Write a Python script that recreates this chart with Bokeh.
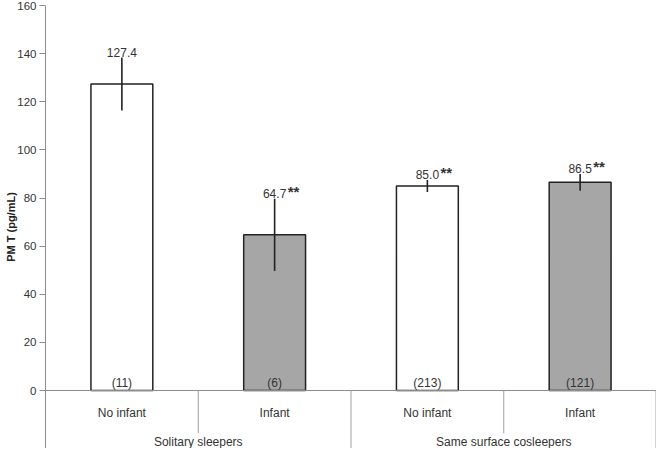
from bokeh.plotting import figure
from bokeh.models import ColumnDataSource, FixedTicker, Range1d
from bokeh.core.properties import value
from bokeh.embed import file_html
from bokeh.resources import INLINE

# ---- data ----
groups = ["Solitary sleepers", "Same surface cosleepers"]
subgroups = ["No infant", "Infant", "No infant", "Infant"]
means = [127.4, 64.7, 85.0, 86.5]
errors = [11.0, 15.0, 2.5, 3.5]
counts = [11, 6, 213, 121]
stars = ["", "**", "**", "**"]
fills = ["#ffffff", "#a6a6a6", "#ffffff", "#a6a6a6"]
y_ticks = [0, 20, 40, 60, 80, 100, 120, 140, 160]

FONT = value("Liberation Sans")
TXT = "#333333"
AX = "#8c8c8c"

n = len(means)
xs = [i + 0.5 for i in range(n)]
src = ColumnDataSource(dict(
    x=xs, top=means, fill=fills,
    lo=[m - e for m, e in zip(means, errors)],
    hi=[m + e for m, e in zip(means, errors)],
    lab=["%.1f" % m for m in means],
    star=stars,
    cnt=["(%d)" % c for c in counts],
    sub=subgroups,
))

W, H = 656, 448
top_b = 5
y_top = 160.0
zero_px = 390.0  # pixel of y=0 within figure
scale = (zero_px - top_b) / y_top
y_bot = -(H - zero_px) / scale

p = figure(width=W, height=H, output_backend="svg", toolbar_location=None,
           x_axis_location=None, min_border_left=45, min_border_right=0,
           min_border_top=top_b, min_border_bottom=0,
           x_range=Range1d(0, 4.0), y_range=Range1d(y_bot, y_top))
p.outline_line_color = None
p.grid.visible = False
p.background_fill_color = "white"

ya = p.yaxis[0]
ya.ticker = FixedTicker(ticks=y_ticks)
ya.axis_line_color = AX
ya.major_tick_line_color = AX
ya.major_tick_out = 6
ya.major_tick_in = 0
ya.minor_tick_line_color = None
ya.major_label_text_font = "Liberation Sans"
ya.major_label_text_font_size = "11.5px"
ya.major_label_text_color = TXT
ya.major_label_standoff = 3
ya.axis_label = "PM T (pg/mL)"
ya.axis_label_text_font = "Liberation Sans"
ya.axis_label_text_font_size = "11px"
ya.axis_label_text_font_style = "bold"
ya.axis_label_text_color = "#222222"
ya.axis_label_standoff = -3

# bars
p.vbar(x="x", top="top", bottom=0, width=0.405, source=src,
       fill_color="fill", line_color="#222222", line_width=1.5)
# error bars
p.segment(x0="x", x1="x", y0="lo", y1="hi", source=src,
          line_color="#222222", line_width=1.6)
# value labels
p.text(x="x", y="hi", text="lab", source=src, text_align="center",
       text_baseline="alphabetic", y_offset=-5, text_font=FONT,
       text_font_size="12px", text_color=TXT)
p.text(x="x", y="hi", text="star", source=src, text_align="left",
       text_baseline="alphabetic", x_offset=13, y_offset=-7, text_font=FONT,
       text_font_size="15px", text_font_style="bold", text_color="#333333")
# counts
p.text(x="x", y=0, text="cnt", source=src, text_align="center",
       text_baseline="alphabetic", y_offset=-8, text_font=FONT,
       text_font_size="12px", text_color=TXT)

# category axis (drawn inside the plot)
p.segment(x0=[0], x1=[n], y0=[0], y1=[0], line_color=AX, line_width=1)
sub_div = [1, 3]
grp_div = [2, 3.997]
p.segment(x0=sub_div, x1=sub_div, y0=[0] * 2, y1=[-17.8] * 2,
          line_color="#a0a0a0", line_width=1)
p.segment(x0=grp_div, x1=grp_div, y0=[0] * 2, y1=[y_bot] * 2,
          line_color="#a0a0a0", line_width=1)
p.text(x="x", y=-9.5, text="sub", source=src, text_align="center",
       text_baseline="middle", text_font=FONT, text_font_size="12px",
       text_color=TXT)
p.text(x=[1.0, 3.0], y=[-21.2, -21.2], text=groups, text_align="center",
       text_baseline="middle", text_font=FONT, text_font_size="12px",
       text_color=TXT)

open("out.html", "w").write(file_html(p, INLINE))
